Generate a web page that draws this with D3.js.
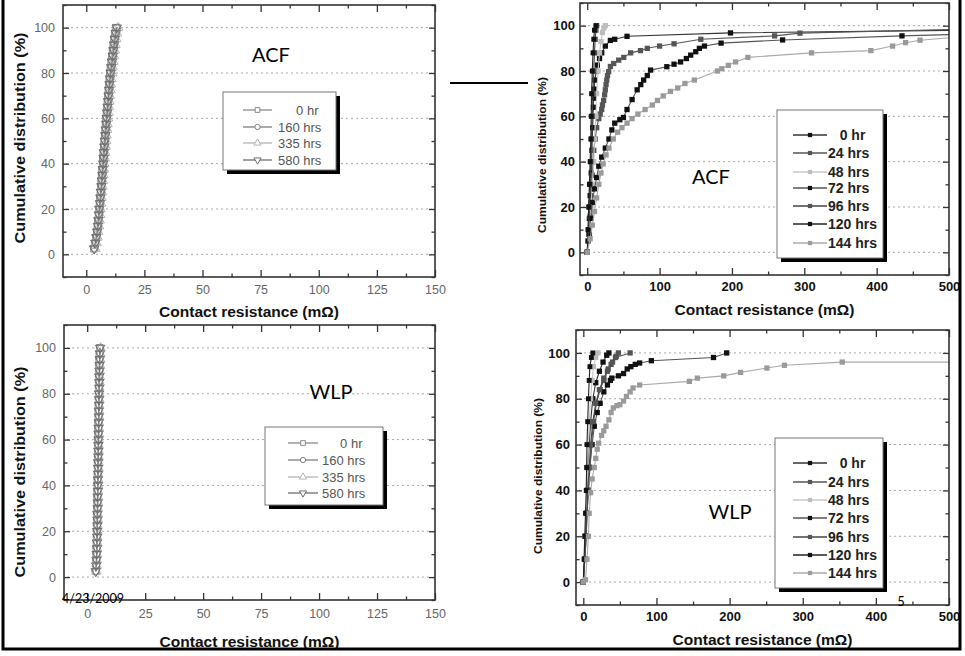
<!DOCTYPE html>
<html><head><meta charset="utf-8">
<script src="https://cdn.jsdelivr.net/npm/d3@7"></script>
<style>
html,body{margin:0;padding:0;background:#fff;}
svg{display:block;}
text{font-family:"Liberation Sans",Arial,sans-serif;}
</style></head>
<body>
<svg id="chart" width="965" height="656"></svg>
<script>
// ---------------- DATA ----------------
// Left panels: cumulative distribution levels (%) shared by all four series
const cumLevels = [2.5,5,7.5,10,12.5,15,17.5,20,22.5,25,27.5,30,32.5,35,37.5,40,42.5,45,47.5,50,52.5,55,57.5,60,62.5,65,67.5,70,72.5,75,77.5,80,82.5,85,87.5,90,92.5,95,97.5,100];
const leftLabels = ["0 hr","160 hrs","335 hrs","580 hrs"];
// ACF (left, top) contact resistance values
const acfL_0   = [3.2,3.8,4.2,4.5,4.8,5.0,5.3,5.5,5.7,5.9,6.1,6.3,6.4,6.6,6.8,7.0,7.1,7.3,7.5,7.7,7.9,8.1,8.3,8.5,8.7,8.9,9.1,9.3,9.5,9.7,9.9,10.1,10.4,10.7,11.0,11.3,11.6,11.9,12.3,12.8];
const acfL_160 = [3.6,4.1,4.5,4.8,5.1,5.4,5.6,5.8,6.0,6.2,6.4,6.6,6.8,7.0,7.2,7.4,7.6,7.7,7.9,8.1,8.3,8.5,8.7,8.9,9.1,9.3,9.5,9.7,9.9,10.1,10.3,10.6,10.9,11.2,11.5,11.8,12.1,12.4,12.8,13.3];
const acfL_335 = [4.0,4.5,4.9,5.2,5.5,5.8,6.0,6.2,6.4,6.6,6.8,7.0,7.2,7.4,7.6,7.8,8.0,8.2,8.4,8.6,8.8,9.0,9.2,9.4,9.6,9.8,10.0,10.2,10.4,10.6,10.8,11.1,11.4,11.7,12.0,12.3,12.6,12.9,13.3,13.8];
const acfL_580 = [3.4,3.9,4.3,4.7,5.0,5.2,5.4,5.6,5.9,6.1,6.3,6.5,6.7,6.9,7.1,7.3,7.5,7.6,7.8,8.0,8.2,8.4,8.6,8.8,9.0,9.2,9.4,9.6,9.8,10.0,10.2,10.5,10.8,11.1,11.4,11.7,12.0,12.3,12.7,13.1];
// WLP (left, bottom)
const wlpL_0   = [3.8,3.9,4.0,4.0,4.1,4.1,4.2,4.2,4.3,4.3,4.3,4.4,4.4,4.4,4.5,4.5,4.5,4.6,4.6,4.6,4.7,4.7,4.7,4.8,4.8,4.8,4.9,4.9,4.9,5.0,5.0,5.0,5.1,5.1,5.1,5.2,5.2,5.3,5.3,5.4];
const wlpL_160 = [3.6,3.8,3.9,4.0,4.0,4.1,4.1,4.2,4.2,4.3,4.3,4.3,4.4,4.4,4.4,4.5,4.5,4.5,4.6,4.6,4.6,4.7,4.7,4.7,4.8,4.8,4.8,4.9,4.9,4.9,5.0,5.0,5.0,5.1,5.1,5.2,5.2,5.3,5.4,5.5];
const wlpL_335 = [4.0,4.1,4.2,4.3,4.3,4.4,4.4,4.5,4.5,4.6,4.6,4.6,4.7,4.7,4.7,4.8,4.8,4.8,4.9,4.9,4.9,5.0,5.0,5.0,5.1,5.1,5.1,5.2,5.2,5.2,5.3,5.3,5.3,5.4,5.4,5.5,5.5,5.6,5.7,5.8];
const wlpL_580 = [3.7,3.9,4.0,4.1,4.2,4.2,4.3,4.3,4.4,4.4,4.4,4.5,4.5,4.5,4.6,4.6,4.6,4.7,4.7,4.7,4.8,4.8,4.8,4.9,4.9,4.9,5.0,5.0,5.0,5.1,5.1,5.1,5.2,5.2,5.2,5.3,5.3,5.4,5.5,5.6];

// Right panels: [resistance mΩ, cumulative %]
const rightLabels = ["0 hr","24 hrs","48 hrs","72 hrs","96 hrs","120 hrs","144 hrs"];
const acfR_0   = [[0,0],[1,5],[2,10],[3,15],[3.5,20],[4,25],[5,30],[5.5,35],[6,40],[6.5,45],[7,50],[7.5,55],[8,60],[8.5,64],[8.8,68],[9.5,72],[10.6,76],[12.5,80],[14,82.6],[17,85.5],[20,88],[25,91],[32,93.5],[38,94],[55,95.3],[198,96.8],[520,98]];
const acfR_24  = [[0,0],[2,8],[4,16],[5,22],[6,28],[7,34],[8,40],[9,45],[11,50],[13,55],[16,59],[18,61],[20,63],[21,65],[22.7,67],[24,69.5],[25,71.7],[26,74],[27,76],[28,78],[29.6,79.7],[32,82],[36.6,83.3],[43.5,84.8],[50.5,86],[60,88],[73.6,89],[83,90],[100,91],[120,92],[157,94],[259,95.5],[294,96.7],[520,98.5]];
const acfR_48  = [[0,0],[3,10],[5,20],[7,30],[9,40],[10,50],[12,60],[13,70],[15,80],[17,88],[19,93],[21,97],[23,99],[25,100]];
const acfR_72  = [[0,0],[3,8],[5,15],[7,22],[10,28],[13,33],[16,38],[20,42],[25,46],[30,50],[34,54],[38,57],[45,58.5],[50,59.5],[55,63],[62,67.4],[69,71.7],[74,74],[78,76],[83,78],[87.5,80.4],[110,81.9],[120,83],[129,84],[137,85.5],[143,87],[150,88.5],[155,90],[162,91],[185,92.3],[270,93.7],[435,95.5],[520,96.2]];
const acfR_96  = [[0,0],[2,10],[3,20],[4,30],[5,40],[6,50],[7,60],[8,70],[9,80],[10,88],[11,94],[12,98],[13,100]];
const acfR_120 = [[0,0],[1,10],[2,20],[3,30],[4,40],[5,50],[5.5,60],[6,70],[7,80],[8,88],[9,94],[10,98],[12,100]];
const acfR_144 = [[0,0],[4,6],[7,12],[10,18],[13,24],[16,30],[19,35],[22,39],[26,43],[30,46],[36,50],[42,53],[48,55],[55,57],[62,59],[70,61],[80,63],[90,65],[97,67],[105,69],[115,71],[125,72.5],[135,74.5],[148,76],[180,80],[186,81],[195,82.5],[205,84],[222,86],[310,88],[392,89],[422,91],[440,92.5],[460,93.6],[520,95.2]];

const wlpR_0   = [[0,0],[2,10],[3,20],[4,30],[5,40],[6,50],[8,60],[10,70],[13,80],[17,87],[22,92],[27,96],[32,99],[35,100]];
const wlpR_24  = [[0,0],[2,10],[4,20],[5,30],[7,40],[9,50],[11,60],[14,70],[18,78],[23,84],[28,88],[33,92],[38,95],[44,98],[64,100]];
const wlpR_48  = [[0,0],[2,10],[3,20],[4,30],[5,40],[6,50],[7,60],[8,70],[10,80],[12,88],[14,94],[17,98],[20,100]];
const wlpR_72  = [[0,0],[2,10],[4,20],[5,30],[7,40],[9,50],[12,60],[15,68],[19,74],[23,78],[28,83],[33,86],[37,88],[39,89],[48,90],[55,91],[60,93],[65,94],[71,95],[77,95.6],[93,96.6],[178,98],[196,100]];
const wlpR_96  = [[0,0],[2,10],[3,20],[5,30],[6,40],[8,50],[10,60],[13,70],[17,78],[22,84],[28,89],[34,93],[40,96],[45,98.5],[48,100]];
const wlpR_120 = [[0,0],[1,10],[2,20],[3,30],[4,40],[4.5,50],[5,60],[6,70],[7,80],[8,88],[9,94],[11,98],[13,100]];
const wlpR_144 = [[0,0],[3,1],[5,10],[7,20],[8,30],[10,39],[12,45],[15,50],[17,54],[19,58],[21,60.6],[25,64],[28,66],[31,68],[35,70.8],[38,74],[41,76],[46,77],[50,77.4],[55,79],[59,81],[64,83],[68,84.7],[77,86],[145,87.6],[156,89],[192,90],[215,91.5],[251,93.4],[275,94.6],[354,96],[520,96]];

const leftXTicks = [0,25,50,75,100,125,150];
const leftXMinor = [12.5,37.5,62.5,87.5,112.5,137.5];
const rightXTicks = [0,100,200,300,400,500];
const rightXMinor = [50,150,250,350,450];
const yTicks = [0,20,40,60,80,100];
const yMinor = [-10,10,30,50,70,90,110];

// ---------------- DRAWING ----------------
const svg = d3.select("#chart");
svg.append("rect").attr("width",965).attr("height",656).attr("fill","#fff");

const leftStyles = [
  {sym:d3.symbolSquare, rot:0, color:"#8a8a8a", size:42},
  {sym:d3.symbolCircle, rot:0, color:"#7e7e7e", size:42},
  {sym:d3.symbolTriangle, rot:0, color:"#b5b5b5", size:38},
  {sym:d3.symbolTriangle, rot:180, color:"#6e6e6e", size:38}
];
const rightStyles = [
  {color:"#111", line:"#333", size:28},
  {color:"#555", line:"#555", size:28},
  {color:"#bdbdbd", line:"#c8c8c8", size:28},
  {color:"#111", line:"#555", size:28},
  {color:"#555", line:"#444", size:28},
  {color:"#111", line:"#222", size:24},
  {color:"#9a9a9a", line:"#aaa", size:28}
];

let clipId = 0;
function drawPanel(c){
  const g = svg.append("g");
  const x = d3.scaleLinear().domain(c.xd).range([c.x0,c.x1]);
  const y = d3.scaleLinear().domain([-10,110]).range([c.y1,c.y0]);
  // grid
  g.selectAll(".grid").data(yTicks).join("line")
    .attr("x1",c.x0+3).attr("x2",c.x1-3)
    .attr("y1",d=>y(d)).attr("y2",d=>y(d))
    .attr("stroke","#a8a8a8").attr("stroke-width",1).attr("stroke-dasharray","2,3");
  // axes (inward ticks)
  const tickCol = c.tickColor;
  function styleAxis(sel){
    sel.select(".domain").remove();
    sel.selectAll(".tick line").attr("stroke","#333").attr("stroke-width",1.3);
  }
  const bx = g.append("g").attr("transform",`translate(0,${c.y1})`)
    .call(d3.axisBottom(x).tickValues(c.xt).tickSizeInner(-7).tickSizeOuter(0).tickPadding(c.xPad));
  styleAxis(bx);
  bx.selectAll("text").attr("font-size",c.tickFont).attr("font-weight",c.tickWeight).attr("fill",tickCol);
  const bxm = g.append("g").attr("transform",`translate(0,${c.y1})`)
    .call(d3.axisBottom(x).tickValues(c.xm).tickSizeInner(-3.5).tickSizeOuter(0).tickFormat(""));
  styleAxis(bxm);
  const tx = g.append("g").attr("transform",`translate(0,${c.y0})`)
    .call(d3.axisTop(x).tickValues(c.xt).tickSizeInner(-7).tickSizeOuter(0).tickFormat(""));
  styleAxis(tx);
  const txm = g.append("g").attr("transform",`translate(0,${c.y0})`)
    .call(d3.axisTop(x).tickValues(c.xm).tickSizeInner(-3.5).tickSizeOuter(0).tickFormat(""));
  styleAxis(txm);
  const ly = g.append("g").attr("transform",`translate(${c.x0},0)`)
    .call(d3.axisLeft(y).tickValues(yTicks).tickSizeInner(-6).tickSizeOuter(0).tickPadding(c.yPad));
  styleAxis(ly);
  ly.selectAll("text").attr("font-size",c.tickFont).attr("font-weight",c.tickWeight).attr("fill",tickCol);
  const lym = g.append("g").attr("transform",`translate(${c.x0},0)`)
    .call(d3.axisLeft(y).tickValues(yMinor).tickSizeInner(-3.5).tickSizeOuter(0).tickFormat(""));
  styleAxis(lym);
  const ry = g.append("g").attr("transform",`translate(${c.x1},0)`)
    .call(d3.axisRight(y).tickValues(yTicks).tickSizeInner(-6).tickSizeOuter(0).tickFormat(""));
  styleAxis(ry);
  const rym = g.append("g").attr("transform",`translate(${c.x1},0)`)
    .call(d3.axisRight(y).tickValues(yMinor).tickSizeInner(-3.5).tickSizeOuter(0).tickFormat(""));
  styleAxis(rym);

  // clip
  const id = "clip"+(clipId++);
  svg.append("clipPath").attr("id",id).append("rect")
    .attr("x",c.x0).attr("y",c.y0).attr("width",c.x1-c.x0).attr("height",c.y1-c.y0);
  const plot = g.append("g").attr("clip-path",`url(#${id})`);
  const line = d3.line().x(d=>x(d[0])).y(d=>y(d[1]));
  c.series.forEach((s,i)=>{
    const st = c.styles[i];
    plot.append("path").datum(s).attr("d",line).attr("fill","none")
      .attr("stroke",st.line||st.color).attr("stroke-width",c.hollow?0.8:1.1);
    plot.selectAll(null).data(s).join("path")
      .attr("transform",d=>`translate(${x(d[0])},${y(d[1])}) rotate(${st.rot||0})`)
      .attr("d",d3.symbol().type(st.sym||d3.symbolSquare).size(st.size))
      .attr("fill",c.hollow?"none":st.color)
      .attr("stroke",c.hollow?st.color:"none").attr("stroke-width",1);
  });
  // frame
  g.append("rect").attr("x",c.x0).attr("y",c.y0).attr("width",c.x1-c.x0).attr("height",c.y1-c.y0)
    .attr("fill","none").attr("stroke","#333").attr("stroke-width",1.6);
  // titles
  g.append("text").attr("x",(c.x0+c.x1)/2 + c.xtDx).attr("y",c.xtY).attr("text-anchor","middle")
    .attr("font-size",14).attr("font-weight","bold").attr("fill","#111")
    .attr("textLength",180).attr("lengthAdjust","spacingAndGlyphs")
    .text("Contact resistance (mΩ)");
  g.append("text").attr("transform",`translate(${c.ytX},${c.ytY}) rotate(-90)`)
    .attr("text-anchor","middle").attr("dy","0.35em")
    .attr("font-size",c.ytFont).attr("font-weight","bold").attr("fill","#111")
    .attr("textLength",c.ytLen).attr("lengthAdjust","spacingAndGlyphs")
    .text("Cumulative distribution (%)");

  // legend
  const L = c.legend;
  svg.append("rect").attr("x",L.x+4).attr("y",L.y+4).attr("width",L.w).attr("height",L.h).attr("fill","#000");
  svg.append("rect").attr("x",L.x).attr("y",L.y).attr("width",L.w).attr("height",L.h)
    .attr("fill","#fff").attr("stroke","#777").attr("stroke-width",1);
  const lg = svg.append("g");
  c.labels.forEach((lab,i)=>{
    const st = c.styles[i];
    const ry0 = L.rows[i];
    lg.append("line").attr("x1",L.lx1).attr("x2",L.lx2).attr("y1",ry0).attr("y2",ry0)
      .attr("stroke",st.line||st.color).attr("stroke-width",1.3);
    lg.append("path").attr("transform",`translate(${(L.lx1+L.lx2)/2},${ry0}) rotate(${st.rot||0})`)
      .attr("d",d3.symbol().type(st.sym||d3.symbolSquare).size(c.hollow?22:18))
      .attr("fill",c.hollow?"#fff":st.color).attr("stroke",c.hollow?st.color:"none").attr("stroke-width",1);
    lg.append("text").attr("x",L.tx).attr("y",ry0).attr("dy","0.36em")
      .attr("font-size",L.font).attr("font-weight",L.weight).attr("fill",L.color)
      .style("white-space","pre")
      .text(lab === "0 hr" ? L.pad + lab : lab);
  });
}

const zipLeft = arr => arr.map((v,i)=>[v,cumLevels[i]]);

drawPanel({x0:63,x1:435,y0:5,y1:277,xd:[-10,150],xt:leftXTicks,xm:leftXMinor,
  xPad:8,yPad:8,tickFont:12.5,tickWeight:"normal",tickColor:"#666",
  xtY:317,xtDx:0,ytX:20,ytY:138,ytFont:14,ytLen:211,hollow:true,
  series:[zipLeft(acfL_0),zipLeft(acfL_160),zipLeft(acfL_335),zipLeft(acfL_580)],
  styles:leftStyles,labels:leftLabels,
  legend:{x:223,y:92,w:113,h:78,rows:[110,127,143,160],lx1:243,lx2:272,tx:278,font:13,weight:"normal",color:"#555",pad:"\u2007\u2007 "}});

drawPanel({x0:64,x1:435,y0:325,y1:600,xd:[-10,150],xt:leftXTicks,xm:leftXMinor,
  xPad:9,yPad:8,tickFont:12.5,tickWeight:"normal",tickColor:"#666",
  xtY:647,xtDx:0,ytX:20,ytY:472,ytFont:14,ytLen:211,hollow:true,
  series:[zipLeft(wlpL_0),zipLeft(wlpL_160),zipLeft(wlpL_335),zipLeft(wlpL_580)],
  styles:leftStyles,labels:leftLabels,
  legend:{x:265,y:427,w:118,h:78,rows:[443,460,477,493],lx1:288,lx2:318,tx:322,font:13,weight:"normal",color:"#555",pad:"\u2007\u2007 "}});

drawPanel({x0:580,x1:949,y0:3,y1:275,xd:[-10,500],xt:rightXTicks,xm:rightXMinor,
  xPad:7,yPad:5,tickFont:13,tickWeight:"bold",tickColor:"#111",
  xtY:315,xtDx:0,ytX:542,ytY:155,ytFont:11.5,ytLen:156,hollow:false,
  series:[acfR_0,acfR_24,acfR_48,acfR_72,acfR_96,acfR_120,acfR_144],
  styles:rightStyles,labels:rightLabels,
  legend:{x:777,y:110,w:106,h:148,rows:[135,153,172,188,206,224,243],lx1:793,lx2:827,tx:828,font:14,weight:"600",color:"#222",pad:"\u2007 "}});

drawPanel({x0:576,x1:949,y0:330,y1:605,xd:[-10,500],xt:rightXTicks,xm:rightXMinor,
  xPad:7,yPad:6,tickFont:13,tickWeight:"bold",tickColor:"#111",
  xtY:645,xtDx:0,ytX:538,ytY:476,ytFont:11.5,ytLen:156,hollow:false,
  series:[wlpR_0,wlpR_24,wlpR_48,wlpR_72,wlpR_96,wlpR_120,wlpR_144],
  styles:rightStyles,labels:rightLabels,
  legend:{x:775,y:438,w:108,h:150,rows:[463,482,500,518,537,555,573],lx1:793,lx2:827,tx:828,font:14,weight:"600",color:"#222",pad:"\u2007 "}});

// slide annotations
const calib = "Lato, 'Open Sans', sans-serif";
function note(t,x,y,size,anchor){
  svg.append("text").attr("x",x).attr("y",y).attr("text-anchor",anchor||"middle")
    .attr("font-size",size).attr("fill","#000").style("font-family",calib).text(t);
}
note("ACF",271,62,20);
note("ACF",711,184,20);
note("WLP",331,399,20);
note("WLP",730,519,20);
note("4/23/2009",62,603,12.5,"start");
note("5",901,606,13);

svg.append("line").attr("x1",450).attr("x2",528).attr("y1",83).attr("y2",83)
  .attr("stroke","#000").attr("stroke-width",2);

// slide border
svg.append("path").attr("d","M3,-5 L3,649 L960,649 L960,-5")
  .attr("fill","none").attr("stroke","#000").attr("stroke-width",3);
</script>
</body></html>
